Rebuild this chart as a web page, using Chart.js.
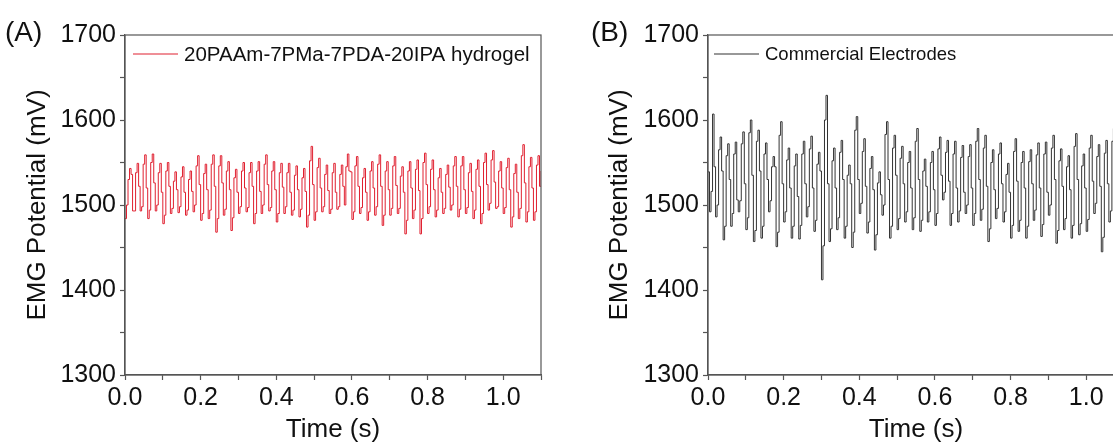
<!DOCTYPE html>
<html>
<head>
<meta charset="utf-8">
<title>EMG Potential</title>
<script src="https://cdn.jsdelivr.net/npm/chart.js@4.4.1/dist/chart.umd.min.js"></script>
<style>
  html, body { margin: 0; padding: 0; background: #fff; width: 1113px; height: 445px; overflow: hidden; }
  .panel { position: absolute; top: 0; height: 445px; }
  .tag { position: absolute; top: 16px; font: 28px Arial, "Liberation Sans", sans-serif; line-height: 32px; color: #111; }
</style>
</head>
<body>
<div class="panel" style="left:0px;width:556px"><canvas id="chartA" width="556" height="445"></canvas></div>
<div class="panel" style="left:560px;width:580px"><canvas id="chartB" width="580" height="445"></canvas></div>
<div class="tag" style="left:5px">(A)</div>
<div class="tag" style="left:591px">(B)</div>

<script>
// sampling grid of the recordings (s)
var sampleStep = 0.004;
var timeRange = [0, 1.1];
var emgRange = [1300, 1700];

var hydrogelLabel = "20PAAm-7PMa-7PDA-20IPA hydrogel";
var commercialLabel = "Commercial Electrodes";

// (A) hydrogel electrode, mV - one row = one cycle of the 50 Hz ripple
var hydrogelEMG = [
  1484, 1500, 1530, 1543, 1536,
  1493, 1493, 1538, 1549, 1522,
  1493, 1498, 1548, 1559, 1520,
  1484, 1494, 1550, 1560, 1526,
  1493, 1500, 1538, 1549, 1515,
  1478, 1488, 1540, 1550, 1522,
  1490, 1496, 1528, 1539, 1518,
  1491, 1498, 1533, 1545, 1515,
  1488, 1494, 1530, 1540, 1516,
  1492, 1500, 1546, 1558, 1524,
  1482, 1490, 1537, 1548, 1518,
  1484, 1494, 1548, 1559, 1522,
  1468, 1484, 1546, 1558, 1526,
  1488, 1495, 1540, 1551, 1518,
  1470, 1485, 1532, 1542, 1515,
  1490, 1498, 1540, 1550, 1520,
  1492, 1497, 1538, 1550, 1522,
  1478, 1490, 1540, 1551, 1516,
  1490, 1500, 1548, 1559, 1524,
  1493, 1497, 1540, 1551, 1518,
  1480, 1490, 1538, 1549, 1521,
  1490, 1498, 1538, 1549, 1515,
  1488, 1494, 1535, 1546, 1518,
  1486, 1495, 1532, 1543, 1516,
  1474, 1488, 1552, 1569, 1524,
  1482, 1492, 1544, 1555, 1520,
  1492, 1498, 1536, 1547, 1517,
  1490, 1495, 1538, 1549, 1515,
  1495, 1498, 1536, 1547, 1522,
  1500, 1545, 1560, 1540, 1539,
  1483, 1492, 1546, 1557, 1522,
  1490, 1497, 1532, 1543, 1515,
  1482, 1492, 1540, 1551, 1520,
  1488, 1498, 1548, 1559, 1522,
  1476, 1488, 1540, 1551, 1518,
  1488, 1496, 1546, 1557, 1523,
  1490, 1496, 1534, 1545, 1515,
  1466, 1482, 1540, 1551, 1520,
  1484, 1494, 1542, 1553, 1517,
  1466, 1484, 1550, 1561, 1524,
  1490, 1498, 1542, 1553, 1518,
  1486, 1494, 1532, 1543, 1515,
  1490, 1496, 1536, 1547, 1521,
  1494, 1500, 1546, 1557, 1522,
  1486, 1495, 1546, 1557, 1518,
  1490, 1497, 1538, 1549, 1516,
  1484, 1494, 1542, 1553, 1522,
  1478, 1490, 1550, 1561, 1524,
  1494, 1502, 1553, 1564, 1527,
  1496, 1498, 1540, 1551, 1520,
  1490, 1497, 1544, 1555, 1518,
  1474, 1486, 1537, 1548, 1515,
  1484, 1496, 1558, 1571, 1526,
  1480, 1492, 1545, 1556, 1520,
  1482, 1492, 1547, 1558, 1522,
  1540
];

// (B) commercial electrodes, mV
var commercialEMG = [
  1539, 1492, 1516, 1607, 1545,
  1486, 1500, 1565, 1580, 1540,
  1459, 1475, 1558, 1572, 1530,
  1475, 1490, 1560, 1574, 1506,
  1492, 1505, 1572, 1586, 1525,
  1471, 1485, 1585, 1600, 1535,
  1457, 1470, 1575, 1588, 1540,
  1461, 1475, 1560, 1573, 1530,
  1492, 1505, 1545, 1557, 1545,
  1451, 1468, 1582, 1598, 1525,
  1480, 1492, 1553, 1567, 1520,
  1461, 1475, 1546, 1560, 1510,
  1460, 1476, 1560, 1575, 1525,
  1486, 1498, 1566, 1581, 1520,
  1469, 1482, 1548, 1562, 1540,
  1412, 1452, 1600, 1629, 1525,
  1457, 1472, 1552, 1567, 1520,
  1471, 1485, 1562, 1576, 1530,
  1461, 1475, 1535, 1547, 1525,
  1450, 1468, 1588, 1604, 1530,
  1490, 1502, 1563, 1578, 1522,
  1467, 1480, 1543, 1557, 1518,
  1447, 1465, 1526, 1539, 1512,
  1488, 1500, 1583, 1598, 1530,
  1461, 1475, 1567, 1582, 1535,
  1471, 1484, 1555, 1569, 1525,
  1480, 1492, 1550, 1563, 1520,
  1471, 1485, 1575, 1590, 1530,
  1469, 1482, 1540, 1554, 1522,
  1480, 1492, 1550, 1563, 1518,
  1476, 1490, 1566, 1580, 1535,
  1506, 1515, 1562, 1576, 1528,
  1476, 1490, 1560, 1575, 1520,
  1480, 1493, 1556, 1570, 1515,
  1490, 1500, 1557, 1571, 1520,
  1476, 1490, 1575, 1590, 1530,
  1482, 1495, 1567, 1582, 1522,
  1457, 1472, 1550, 1565, 1518,
  1484, 1496, 1560, 1573, 1525,
  1480, 1492, 1536, 1549, 1515,
  1461, 1476, 1563, 1578, 1528,
  1469, 1482, 1550, 1563, 1520,
  1461, 1475, 1551, 1565, 1525,
  1482, 1494, 1559, 1573, 1520,
  1463, 1477, 1560, 1574, 1515,
  1488, 1500, 1567, 1582, 1530,
  1455, 1470, 1552, 1566, 1522,
  1471, 1484, 1545, 1558, 1518,
  1461, 1476, 1569, 1584, 1530,
  1465, 1478, 1546, 1560, 1520,
  1469, 1483, 1567, 1582, 1528,
  1490, 1502, 1557, 1571, 1522,
  1445, 1462, 1561, 1576, 1525,
  1480, 1493, 1575, 1590, 1530,
  1476, 1490, 1556, 1570, 1520,
  1500
];

var fontFamily = 'Arial, "Liberation Sans", sans-serif';
var axisColor = '#555';

// box round the plot + legend line inside the top left corner
var framePlugin = {
  id: 'frame',
  afterDatasetsDraw: function(chart, args, opts) {
    var a = chart.chartArea, ctx = chart.ctx;
    ctx.save();
    ctx.strokeStyle = axisColor;
    ctx.lineWidth = 1.2;
    ctx.strokeRect(a.left, a.top, a.right - a.left, a.bottom - a.top);
    var ds = chart.data.datasets[0];
    ctx.strokeStyle = ds.borderColor;
    ctx.lineWidth = 1.2;
    ctx.beginPath();
    ctx.moveTo(a.left + opts.lineStart, opts.y);
    ctx.lineTo(a.left + opts.lineStart + 45, opts.y);
    ctx.stroke();
    ctx.fillStyle = '#111';
    ctx.font = opts.fontSize + 'px ' + fontFamily;
    ctx.textBaseline = 'middle';
    ctx.fillText(ds.label, a.left + opts.lineStart + 51, opts.y + 1);
    ctx.restore();
  }
};

function makeChart(id, values, label, color, layout) {
  var pts = values.map(function(v, i) { return {x: i * sampleStep, y: v}; });
  return new Chart(document.getElementById(id).getContext('2d'), {
    type: 'line',
    data: {
      datasets: [{
        label: label,
        data: pts,
        borderColor: color,
        borderWidth: 1,
        pointRadius: 0,
        stepped: true,
        fill: false
      }]
    },
    options: {
      responsive: false,
      animation: false,
      devicePixelRatio: 1,
      layout: { padding: { left: 0, right: layout.padRight, top: 35, bottom: 0 } },
      plugins: {
        legend: { display: false },
        tooltip: { enabled: false },
        frame: { lineStart: layout.legendStart, y: 54, fontSize: layout.legendFont }
      },
      scales: {
        x: {
          type: 'linear',
          min: timeRange[0],
          max: timeRange[1],
          afterFit: function(s) { s.height = 70; },
          grid: { drawOnChartArea: false, drawTicks: true, tickLength: 5, tickColor: axisColor, tickWidth: 1.2 },
          border: { display: true, color: axisColor, width: 1.2 },
          ticks: {
            stepSize: 0.1,
            autoSkip: false,
            maxRotation: 0,
            padding: 3,
            color: '#111',
            font: { family: fontFamily, size: 25 },
            callback: function(v) { return Math.round(v * 10) % 2 === 0 ? v.toFixed(1) : ''; }
          },
          title: {
            display: true,
            text: 'Time (s)',
            color: '#111',
            font: { family: fontFamily, size: 26 },
            padding: { top: 0, bottom: 0 }
          }
        },
        y: {
          min: emgRange[0],
          max: emgRange[1],
          afterFit: function(s) { s.width = layout.yWidth; },
          grid: { drawOnChartArea: false, drawTicks: true, tickLength: 5, tickColor: axisColor, tickWidth: 1.2 },
          border: { display: true, color: axisColor, width: 1.2 },
          ticks: {
            stepSize: 50,
            autoSkip: false,
            padding: 4,
            color: '#111',
            font: { family: fontFamily, size: 25 },
            callback: function(v) { return v % 100 === 0 ? v : ''; }
          },
          title: {
            display: true,
            text: 'EMG Potential (mV)',
            color: '#111',
            font: { family: fontFamily, size: 26, lineHeight: 1.15 },
            padding: { top: layout.titlePad, bottom: 0 }
          }
        }
      }
    },
    plugins: [framePlugin]
  });
}

var chartA = makeChart('chartA', hydrogelEMG, hydrogelLabel, '#e02030',
  { yWidth: 125, padRight: 15, titlePad: 23, legendStart: 8, legendFont: 20.5 });
var chartB = makeChart('chartB', commercialEMG, commercialLabel, '#333333',
  { yWidth: 148, padRight: 16, titlePad: 45, legendStart: 6, legendFont: 18.5 });
</script>
</body>
</html>
